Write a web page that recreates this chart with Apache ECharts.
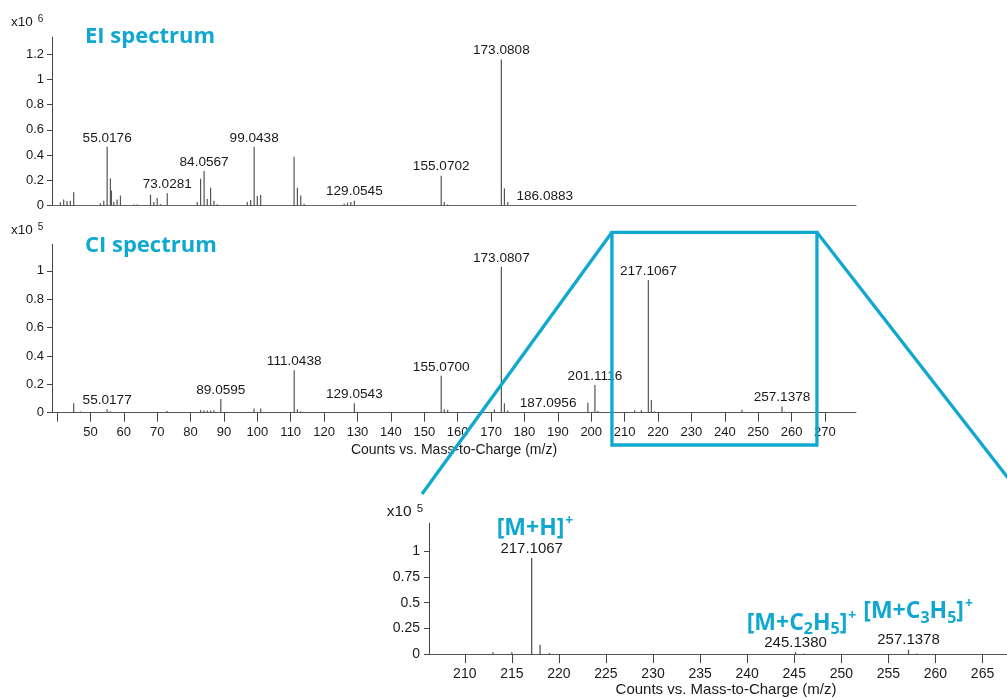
<!DOCTYPE html>
<html><head><meta charset="utf-8">
<script src="https://cdn.jsdelivr.net/npm/echarts@6/dist/echarts.min.js"></script>
<style>html,body{margin:0;padding:0;background:#fff}#c{width:1007px;height:698px}</style>
</head><body><div id="c"></div>
<script>
// ---- data ----
// EI spectrum: m/z and counts (x10^6)
const eiMz  = [41, 42, 43, 44, 45, 53, 54, 55.0176, 56, 56.3, 57, 58, 59, 63, 64, 68, 69, 70, 71, 73.0281,
               82, 83, 84.0567, 85, 86, 87, 88, 97, 98, 99.0438, 100, 101, 111, 112, 113, 114,
               126, 127, 128, 129.0545, 139, 141, 143, 155.0702, 156, 157, 173.0808, 174, 175, 186.0883];
const eiInt = [0.027, 0.05, 0.037, 0.04, 0.106, 0.02, 0.04, 0.466, 0.216, 0.12, 0.03, 0.05, 0.08, 0.01, 0.01, 0.088, 0.03, 0.06, 0.012, 0.098,
               0.03, 0.213, 0.274, 0.053, 0.142, 0.04, 0.012, 0.03, 0.045, 0.466, 0.077, 0.085, 0.387, 0.142, 0.08, 0.015,
               0.015, 0.025, 0.03, 0.04, 0.005, 0.005, 0.005, 0.237, 0.03, 0.01, 1.157, 0.137, 0.03, 0.006];
const eiLabeled = [55.0176, 73.0281, 84.0567, 99.0438, 129.0545, 155.0702, 173.0808, 186.0883];

// CI spectrum: m/z and counts (x10^5)
const ciMz  = [45, 47, 55.0177, 56, 57, 73, 83, 84, 85, 86, 87, 89.0595, 99, 101, 111.0438, 112, 113,
               129.0543, 155.0700, 156, 157, 171, 173.0807, 174, 175, 187.0956, 199, 201.1116, 202,
               213, 215, 217.1067, 218, 219, 245.1380, 246, 257.1378, 258];
const ciInt = [0.066, 0.008, 0.024, 0.01, 0.005, 0.012, 0.018, 0.018, 0.015, 0.015, 0.018, 0.096, 0.03, 0.03, 0.30, 0.024, 0.01,
               0.066, 0.26, 0.025, 0.02, 0.022, 1.028, 0.066, 0.015, 0.006, 0.07, 0.195, 0.012,
               0.017, 0.017, 0.935, 0.09, 0.011, 0.02, 0.005, 0.043, 0.006];
const ciLabeled = [55.0177, 89.0595, 111.0438, 129.0543, 155.0700, 173.0807, 187.0956, 201.1116, 217.1067, 257.1378];
const insetLabeled = [217.1067, 245.1380, 257.1378];

// axis ticks
const mainXTicks  = [40, 50, 60, 70, 80, 90, 100, 110, 120, 130, 140, 150, 160, 170, 180, 190, 200, 210, 220, 230, 240, 250, 260, 270];
const mainXLabels = [50, 60, 70, 80, 90, 100, 110, 120, 130, 140, 150, 160, 170, 180, 190, 200, 210, 220, 230, 240, 250, 260, 270];
const eiYTicks    = [0, 0.2, 0.4, 0.6, 0.8, 1, 1.2];
const ciYTicks    = [0, 0.2, 0.4, 0.6, 0.8, 1];
const insetXTicks = [210, 215, 220, 225, 230, 235, 240, 245, 250, 255, 260, 265];
const insetYTicks = [0, 0.25, 0.5, 0.75, 1];
const axisTitle = 'Counts vs. Mass-to-Charge (m/z)';

// ---- chart ----
const CYAN = '#10a8d0';
const TXT = '#1a1a1a';
const FONT = "'Liberation Sans', Arial, sans-serif";
const MAIN_MIN = 38.5, MAIN_MAX = 279.3;
const INSET_MIN = 206.2, INSET_MAX = 267.6;

function build(mz, ints, labeled, filter) {
  const out = [];
  mz.forEach((m, i) => {
    if (filter && (m < filter[0] || m > filter[1])) return;
    const d = { value: [m, ints[i]] };
    if (labeled.indexOf(m) >= 0) d.label = { show: true, formatter: m.toFixed(4) };
    out.push(d);
  });
  return out;
}

function yAxis(gi, max, ticks, fs, margin) {
  return {
    type: 'value', gridIndex: gi, min: 0, max: max,
    splitLine: { show: false },
    axisLine: { show: true, lineStyle: { color: '#444', width: 1 } },
    axisTick: { show: true, length: 5, customValues: ticks, lineStyle: { color: '#444' } },
    axisLabel: { customValues: ticks, fontSize: fs, color: TXT, fontFamily: FONT, margin: margin }
  };
}

const chart = echarts.init(document.getElementById('c'), null, { renderer: 'canvas' });
const option = {
  animation: false,
  backgroundColor: '#fff',
  grid: [
    { left: 52, top: 37, width: 804, height: 168.7 },
    { left: 52, top: 244.3, width: 804, height: 168.4 },
    { left: 429, top: 523.3, width: 578, height: 135.4 }
  ],
  xAxis: [
    { type: 'value', gridIndex: 0, min: MAIN_MIN, max: MAIN_MAX, splitLine: { show: false },
      axisLine: { lineStyle: { color: '#666' } }, axisTick: { show: false }, axisLabel: { show: false } },
    { type: 'value', gridIndex: 1, min: MAIN_MIN, max: MAIN_MAX, splitLine: { show: false },
      axisLine: { lineStyle: { color: '#555' } },
      axisTick: { show: true, length: 9, customValues: mainXTicks, lineStyle: { color: '#444' } },
      axisLabel: { customValues: mainXLabels, fontSize: 13, color: TXT, fontFamily: FONT, margin: 13 },
      name: axisTitle, nameLocation: 'middle', nameGap: 30,
      nameTextStyle: { fontSize: 14, color: TXT, fontFamily: FONT } },
    { type: 'value', gridIndex: 2, min: INSET_MIN, max: INSET_MAX, splitLine: { show: false },
      axisLine: { lineStyle: { color: '#555' } },
      axisTick: { show: true, length: 9, customValues: insetXTicks, lineStyle: { color: '#444' } },
      axisLabel: { customValues: insetXTicks, fontSize: 14, color: TXT, fontFamily: FONT, margin: 13 },
      name: axisTitle, nameLocation: 'middle', nameGap: 26,
      nameTextStyle: { fontSize: 15, color: TXT, fontFamily: FONT, padding: [0, 0, 0, 16] } }
  ],
  yAxis: [
    yAxis(0, 1.334, eiYTicks, 13, 8),
    yAxis(1, 1.187, ciYTicks, 13, 8),
    yAxis(2, 1.273, insetYTicks, 14, 9)
  ],
  series: [
    { type: 'bar', xAxisIndex: 0, yAxisIndex: 0, barWidth: 1.2, itemStyle: { color: '#555' },
      label: { show: false, position: 'top', distance: 2, fontSize: 13.6, color: TXT, fontFamily: FONT },
      data: build(eiMz, eiInt, eiLabeled) },
    { type: 'bar', xAxisIndex: 1, yAxisIndex: 1, barWidth: 1.2, itemStyle: { color: '#555' },
      label: { show: false, position: 'top', distance: 2, fontSize: 13.6, color: TXT, fontFamily: FONT },
      data: build(ciMz, ciInt, ciLabeled) },
    { type: 'bar', xAxisIndex: 2, yAxisIndex: 2, barWidth: 1.3, itemStyle: { color: '#555' },
      label: { show: false, position: 'top', distance: 2, fontSize: 15, color: TXT, fontFamily: FONT },
      data: build(ciMz, ciInt, insetLabeled, [INSET_MIN, INSET_MAX]) }
  ]
};
chart.setOption(option);

// ---- annotations ----
const bx0 = chart.convertToPixel({ xAxisIndex: 1 }, INSET_MIN);
const bx1 = chart.convertToPixel({ xAxisIndex: 1 }, INSET_MAX);
const boxTop = 232.3, boxBottom = 445;

function exp(x, y, base, sup, fs, sfs) {
  return { type: 'text', x: x, y: y, z: 50, style: {
    text: '{a|' + base + '}{b|' + sup + '}', verticalAlign: 'top', fill: TXT,
    rich: { a: { fontSize: fs, lineHeight: fs + 2.5, fontFamily: FONT, fill: TXT },
            b: { fontSize: sfs, lineHeight: sfs * 0.8, verticalAlign: 'top', fontFamily: FONT, fill: TXT, padding: [0, 0, 0, 5] } } } };
}
function formula(x, y, parts, fs) {
  // parts: array of [text, kind]; kind: 'n' normal, 's' subscript, 'p' superscript
  const text = parts.map(p => '{' + p[1] + '|' + p[0] + '}').join('');
  const sup = Math.round(fs * 0.62), sub = Math.round(fs * 0.7);
  const fam = "'Open Sans', sans-serif";
  return { type: 'text', x: x, y: y, z: 50, style: {
    text: text, verticalAlign: 'top', fill: CYAN,
    rich: {
      n: { fontSize: fs, lineHeight: fs + 6, fontWeight: 'bold', fontFamily: fam, fill: CYAN },
      s: { fontSize: sub, lineHeight: sub, verticalAlign: 'bottom', fontWeight: 'bold', fontFamily: fam, fill: CYAN },
      p: { fontSize: sup, lineHeight: sup, verticalAlign: 'top', fontWeight: 'bold', fontFamily: fam, fill: CYAN, padding: [0, 0, 0, 1] }
    } } };
}

chart.setOption({
  graphic: [
    { type: 'text', x: 85, y: 37, z: 50, style: { text: 'EI spectrum', fontSize: 22, fontWeight: 'bold',
      fontFamily: "'Open Sans', sans-serif", fill: CYAN, verticalAlign: 'middle' } },
    { type: 'text', x: 85, y: 246, z: 50, style: { text: 'CI spectrum', fontSize: 22, fontWeight: 'bold',
      fontFamily: "'Open Sans', sans-serif", fill: CYAN, verticalAlign: 'middle' } },
    exp(11, 14.5, 'x10', '6', 13.5, 10),
    exp(11, 222.1, 'x10', '5', 13.5, 10),
    exp(386.7, 503, 'x10', '5', 15.5, 11.5),
    formula(496.7, 514.4, [['[M+H]', 'n'], ['+', 'p']], 23),
    formula(746.7, 608.9, [['[M+C', 'n'], ['2', 's'], ['H', 'n'], ['5', 's'], [']', 'n'], ['+', 'p']], 23),
    formula(863.3, 597.2, [['[M+C', 'n'], ['3', 's'], ['H', 'n'], ['5', 's'], [']', 'n'], ['+', 'p']], 23),
    { type: 'rect', z: 60, shape: { x: bx0, y: boxTop, width: bx1 - bx0, height: boxBottom - boxTop },
      style: { fill: 'none', stroke: CYAN, lineWidth: 3.3 } },
    { type: 'line', z: 60, shape: { x1: bx0, y1: boxTop, x2: 422, y2: 494 },
      style: { stroke: CYAN, lineWidth: 3.3 } },
    { type: 'line', z: 60, shape: { x1: bx1, y1: boxTop, x2: 1008, y2: 478 },
      style: { stroke: CYAN, lineWidth: 3.3 } }
  ]
});
</script>
</body></html>
